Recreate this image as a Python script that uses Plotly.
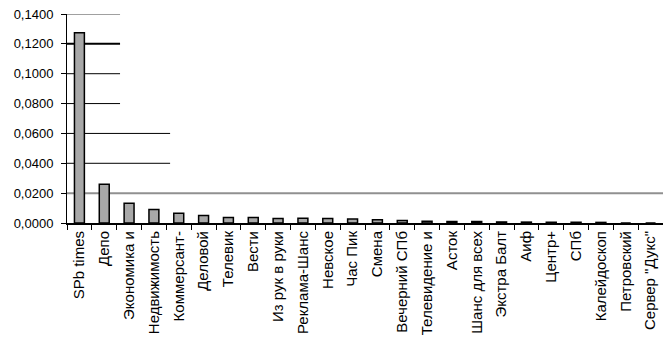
import plotly.graph_objects as go

categories = ["SPb times", "Депо", "Экономика и", "Недвижимость", "Коммерсант-",
              "Деловой", "Телевик", "Вести", "Из рук в руки", "Реклама-Шанс",
              "Невское", "Час Пик", "Смена", "Вечерний СПб", "Телевидение и",
              "Асток", "Шанс для всех", "Экстра Балт", "Аиф", "Центр+", "СПб",
              "Калейдоскоп", "Петровский", "Сервер \"Дукс\""]
values = [0.1275, 0.0260, 0.0133, 0.0090, 0.0066, 0.0050, 0.0037, 0.0037,
          0.0030, 0.0031, 0.0030, 0.0026, 0.0022, 0.0016, 0.0011, 0.0010,
          0.0010, 0.0007, 0.0006, 0.0005, 0.0005, 0.0004, 0.0000, 0.0000]
y_ticks = [0.0, 0.02, 0.04, 0.06, 0.08, 0.10, 0.12, 0.14]

# partial gridlines as seen in the reference (value, right end in paper coords, colour, width)
grid_lines = [
    (0.14, 0.089, "#a0a0a0", 2),
    (0.12, 0.089, "#000000", 2),
    (0.10, 0.089, "#000000", 1),
    (0.08, 0.089, "#000000", 1),
    (0.06, 0.173, "#000000", 1),
    (0.04, 0.173, "#000000", 1),
    (0.02, 1.0, "#909090", 2),
]

fig = go.Figure()
fig.add_trace(go.Bar(
    x=categories, y=values,
    marker=dict(color="#a8a8a8", line=dict(color="#000000", width=1.5)),
))

shapes = []
for v, x1, c, w in grid_lines:
    shapes.append(dict(type="line", xref="paper", yref="y", x0=0, x1=x1, y0=v, y1=v,
                       line=dict(color=c, width=w), layer="below"))

fig.update_layout(
    width=663, height=343,
    margin=dict(l=67, r=0, t=14, b=120),
    paper_bgcolor="white", plot_bgcolor="white",
    bargap=0.6,
    showlegend=False,
    shapes=shapes,
    separators=",.",
    font=dict(family="Liberation Sans, Arial, sans-serif", color="#000000"),
    xaxis=dict(
        tickangle=-90, tickfont=dict(size=15),
        showline=True, linecolor="#000000", linewidth=2,
        ticks="outside", tickson="boundaries", ticklen=5, tickcolor="#000000",
        showgrid=False, range=[-0.5, len(categories) - 0.5],
    ),
    yaxis=dict(
        range=[0, 0.14], tickvals=y_ticks, tickformat=".4f",
        tickfont=dict(size=13), ticklabelstandoff=5,
        showline=True, linecolor="#000000", linewidth=1,
        ticks="outside", ticklen=5, tickcolor="#000000",
        showgrid=False, zeroline=False,
    ),
)

fig.write_html("out.html")
